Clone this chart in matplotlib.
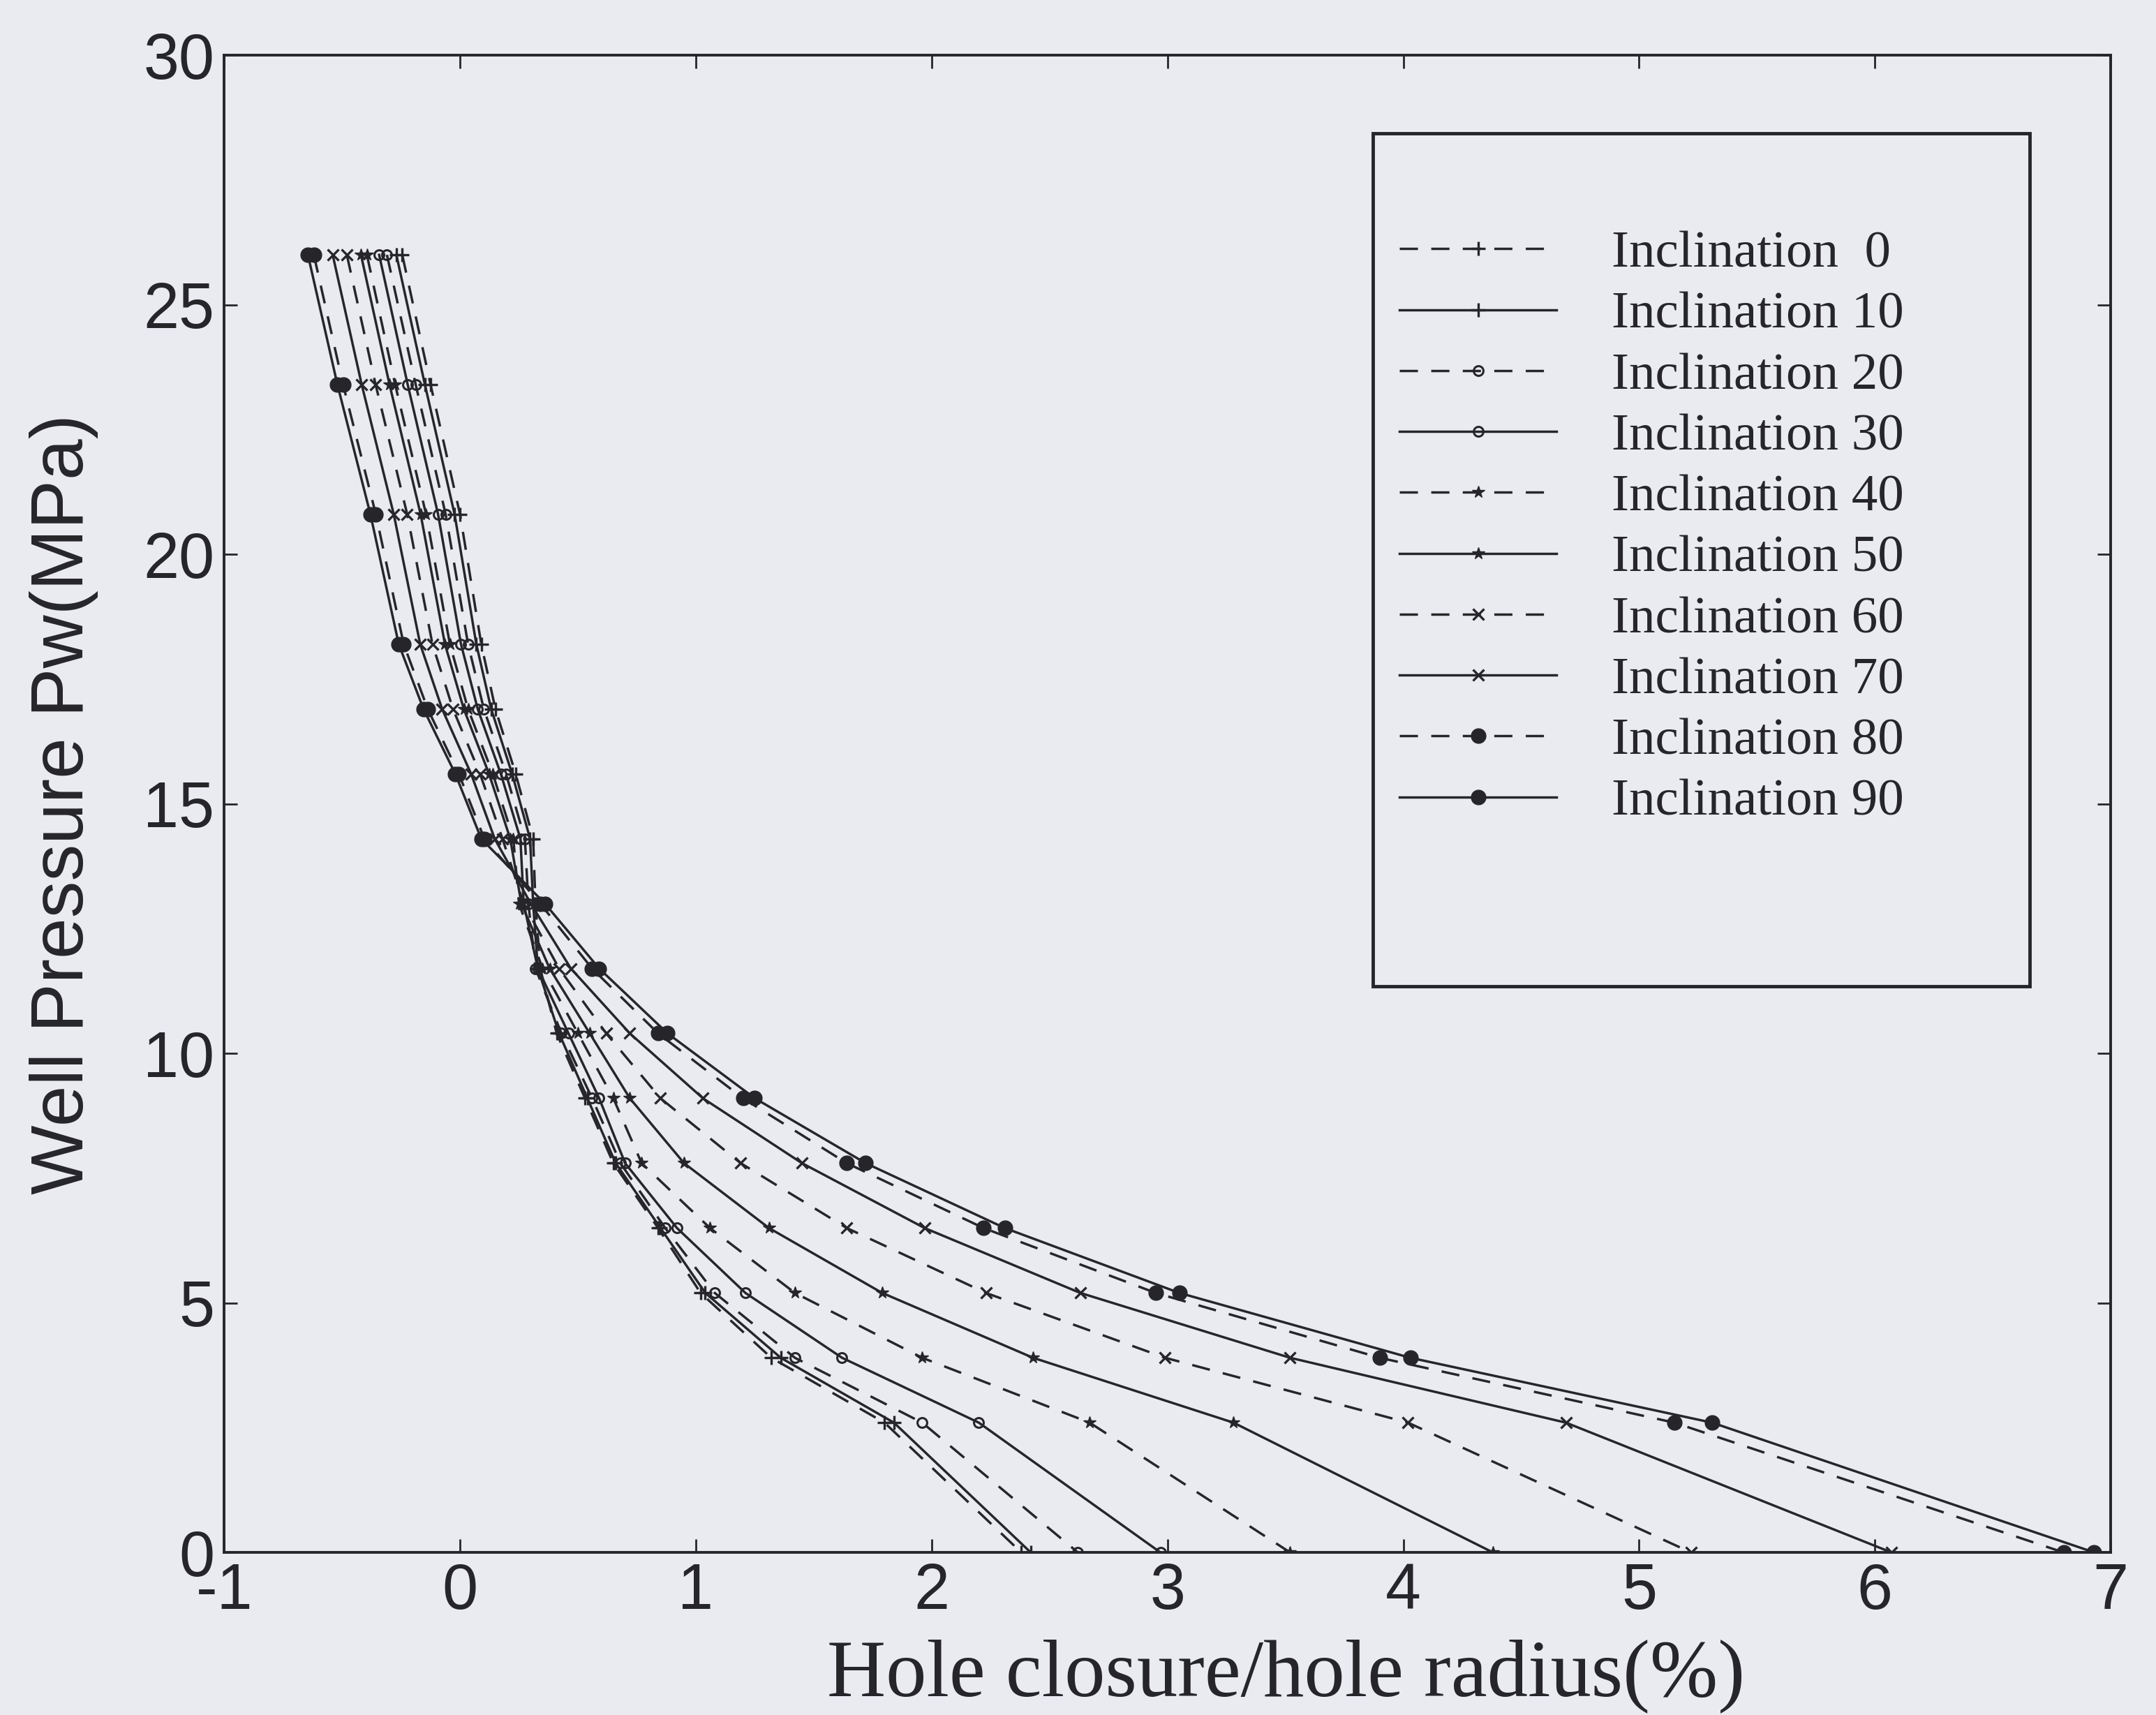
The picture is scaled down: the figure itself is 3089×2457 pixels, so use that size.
import matplotlib
matplotlib.use("Agg")
import matplotlib.pyplot as plt
from matplotlib.patches import Rectangle

# ---------------- data ----------------
pressure = [26.0, 23.4, 20.8, 18.2, 16.9, 15.6, 14.3, 13.0, 11.7, 10.4, 9.1, 7.8, 6.5, 5.2, 3.9, 2.6, 0.0]

inclinations = [0, 10, 20, 30, 40, 50, 60, 70, 80, 90]

closure_0  = [-0.245, -0.125, 0.000, 0.090, 0.150, 0.236, 0.310, 0.320, 0.340, 0.410, 0.530, 0.650, 0.840, 1.020, 1.320, 1.800, 2.380]
closure_10 = [-0.270, -0.149, -0.023, 0.069, 0.132, 0.221, 0.297, 0.310, 0.330, 0.420, 0.540, 0.660, 0.850, 1.040, 1.360, 1.840, 2.420]
closure_20 = [-0.310, -0.188, -0.061, 0.034, 0.101, 0.195, 0.275, 0.290, 0.320, 0.430, 0.560, 0.680, 0.870, 1.080, 1.420, 1.960, 2.620]
closure_30 = [-0.343, -0.222, -0.093, 0.004, 0.075, 0.173, 0.256, 0.270, 0.330, 0.460, 0.590, 0.700, 0.920, 1.210, 1.620, 2.200, 2.970]
closure_40 = [-0.395, -0.275, -0.144, -0.043, 0.034, 0.139, 0.226, 0.250, 0.350, 0.500, 0.650, 0.770, 1.060, 1.420, 1.960, 2.670, 3.520]
closure_50 = [-0.420, -0.299, -0.167, -0.064, 0.016, 0.123, 0.213, 0.260, 0.380, 0.550, 0.720, 0.950, 1.310, 1.790, 2.430, 3.280, 4.380]
closure_60 = [-0.480, -0.358, -0.224, -0.117, -0.030, 0.085, 0.180, 0.270, 0.420, 0.620, 0.850, 1.190, 1.640, 2.230, 2.990, 4.020, 5.220]
closure_70 = [-0.540, -0.417, -0.281, -0.169, -0.076, 0.047, 0.147, 0.300, 0.470, 0.720, 1.030, 1.450, 1.970, 2.630, 3.520, 4.690, 6.070]
closure_80 = [-0.620, -0.496, -0.357, -0.239, -0.137, -0.005, 0.103, 0.340, 0.560, 0.840, 1.200, 1.640, 2.220, 2.950, 3.900, 5.150, 6.800]
closure_90 = [-0.645, -0.520, -0.380, -0.260, -0.155, -0.020, 0.090, 0.360, 0.590, 0.880, 1.250, 1.720, 2.310, 3.050, 4.030, 5.310, 6.930]

closures = [closure_0, closure_10, closure_20, closure_30, closure_40,
            closure_50, closure_60, closure_70, closure_80, closure_90]

x_ticks = [-1, 0, 1, 2, 3, 4, 5, 6, 7]
y_ticks = [0, 5, 10, 15, 20, 25, 30]

# ---------------- styles ----------------
bg = "#eaebf1"
ink = "#26262a"
styles = [
    dict(ls="--", marker="+", ms=14, mew=2.4, mfc=ink),
    dict(ls="-",  marker="+", ms=14, mew=2.4, mfc=ink),
    dict(ls="--", marker="o", ms=10, mew=2.2, mfc="none"),
    dict(ls="-",  marker="o", ms=10, mew=2.2, mfc="none"),
    dict(ls="--", marker="*", ms=13, mew=1.0, mfc=ink),
    dict(ls="-",  marker="*", ms=13, mew=1.0, mfc=ink),
    dict(ls="--", marker="x", ms=12, mew=2.4, mfc=ink),
    dict(ls="-",  marker="x", ms=12, mew=2.4, mfc=ink),
    dict(ls="--", marker="o", ms=15, mew=1.0, mfc=ink),
    dict(ls="-",  marker="o", ms=15, mew=1.0, mfc=ink),
]

fig = plt.figure(figsize=(30.89, 24.57), dpi=100, facecolor=bg)
ax = fig.add_axes([0.104, 0.0948, 0.875, 0.873], facecolor=bg)

handles = []
for inc, xs, st in zip(inclinations, closures, styles):
    label = "Inclination  0" if inc == 0 else f"Inclination {inc}"
    line, = ax.plot(xs, pressure, color=ink, lw=2.5, ls=st["ls"],
                    marker=st["marker"], ms=st["ms"], mew=st["mew"],
                    mfc=st["mfc"], mec=ink, label=label)
    if st["ls"] == "--":
        line.set_dashes((7.5, 5.5))
    handles.append(line)

ax.set_xlim(-1, 7)
ax.set_ylim(0, 30)
ax.set_xticks(x_ticks)
ax.set_yticks(y_ticks)
ax.set_xticklabels([str(t) for t in x_ticks], family="Liberation Sans", fontsize=66, color=ink)
ax.set_yticklabels([str(t) for t in y_ticks], family="Liberation Sans", fontsize=66, color=ink)
ax.tick_params(direction="in", length=14, width=2, color=ink, top=True, right=True)
ax.tick_params(axis="x", pad=10)
ax.tick_params(axis="y", pad=10)
for s in ax.spines.values():
    s.set_linewidth(2.8)
    s.set_color(ink)

ax.set_ylabel("Well Pressure Pw(MPa)", family="Liberation Sans", fontsize=76, color=ink, labelpad=46)
ax.set_xlabel("Hole closure/hole radius(%)", family="Liberation Serif", fontsize=84, color=ink)
ax.xaxis.set_label_coords(0.563, -0.058)

# legend frame (taller than the entries, as in the original)
ax.add_patch(Rectangle((0.609, 0.378), 0.348, 0.570, transform=ax.transAxes,
                       fill=False, lw=3.5, edgecolor=ink, zorder=5))
leg = ax.legend(handles=handles, loc="upper left", bbox_to_anchor=(0.623, 0.883),
                frameon=False, prop={"family": "Liberation Serif", "size": 54},
                handlelength=3.0, handletextpad=1.05, labelspacing=0.25,
                borderpad=0, borderaxespad=0)
for t in leg.get_texts():
    t.set_color(ink)

fig.savefig("out.png", dpi=100, facecolor=bg)
